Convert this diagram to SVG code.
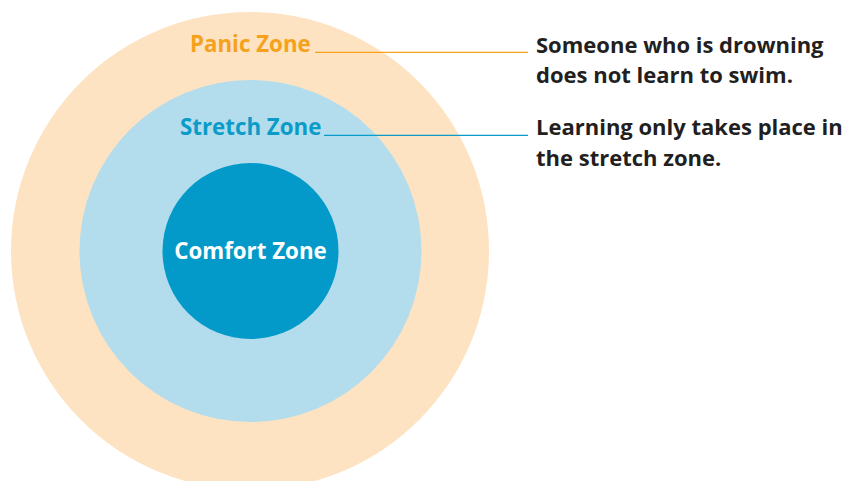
<svg xmlns="http://www.w3.org/2000/svg" width="845" height="481" viewBox="0 0 845 481">
  <style>
    .zone-label { font-family: "Open Sans", "Liberation Sans", sans-serif; font-weight: 700; font-size: 22.3px; }
    .note { font-family: "Open Sans", "Liberation Sans", sans-serif; font-weight: 700; font-size: 22px; fill: #231f20; }
    .leader { fill: none; stroke-width: 1.2; }
  </style>
  <rect width="845" height="481" fill="#ffffff"/>

  <!-- concentric zones -->
  <g id="panic-zone">
    <circle cx="250" cy="251" r="239" fill="#fde3c2"/>
    <text class="zone-label" x="190" y="52" fill="#f5a11c">Panic Zone</text>
  </g>
  <g id="stretch-zone">
    <circle cx="250.5" cy="251" r="171" fill="#b3dcec"/>
    <text class="zone-label" x="180" y="135" fill="#0a9bc9">Stretch Zone</text>
  </g>
  <g id="comfort-zone">
    <circle cx="250.5" cy="251" r="88" fill="#039ac9"/>
    <text class="zone-label" x="250.5" y="259" text-anchor="middle" fill="#ffffff" font-size="24.5">Comfort Zone</text>
  </g>

  <!-- explanatory notes -->
  <g id="note-panic">
    <text class="note" x="536" y="53">Someone who is drowning</text>
    <text class="note" x="536" y="83">does not learn to swim.</text>
  </g>
  <g id="note-stretch">
    <text class="note" x="536" y="135">Learning only takes place in</text>
    <text class="note" x="536" y="166">the stretch zone.</text>
  </g>

  <!-- leader lines -->
  <g id="connectors">
    <line class="leader" x1="315" y1="52.3" x2="528" y2="52.3" stroke="#f5a11c"/>
    <line class="leader" x1="324" y1="135.3" x2="528" y2="135.3" stroke="#0a9bc9"/>
  </g>
</svg>
